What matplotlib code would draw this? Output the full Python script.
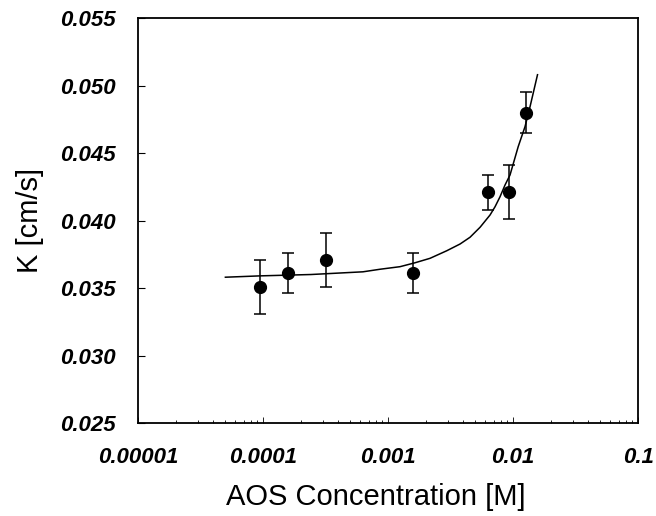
import matplotlib
matplotlib.use('Agg')
import matplotlib.pyplot as plt
from matplotlib.ticker import FixedLocator, LogLocator, NullFormatter

plt.rcParams['font.family'] = ['Liberation Sans', 'DejaVu Sans']

# measured points (AOS concentration [M], K [cm/s], error)
conc = [9.5e-5, 1.58e-4, 3.17e-4, 1.58e-3, 6.3e-3, 9.35e-3, 1.27e-2]
k_val = [0.0351, 0.0361, 0.0371, 0.0361, 0.0421, 0.0421, 0.0480]
k_err = [0.0020, 0.0015, 0.0020, 0.0015, 0.0013, 0.0020, 0.0015]

# fitted curve
fit_x = [5.0e-5, 9.5e-5, 2.42e-4, 6.3e-4, 8.63e-4, 1.247e-3, 1.644e-3,
         2.168e-3, 2.95e-3, 3.77e-3, 4.53e-3, 5.45e-3, 6.55e-3, 7.18e-3,
         7.87e-3, 8.63e-3, 9.46e-3, 1.10e-2, 1.247e-2, 1.368e-2, 1.57e-2]
fit_y = [0.0358, 0.0359, 0.0360, 0.0362, 0.03639, 0.03658, 0.03687,
         0.03720, 0.03776, 0.03826, 0.03876, 0.03950, 0.04041, 0.04102,
         0.04176, 0.04263, 0.04337, 0.04547, 0.04695, 0.04843, 0.05080]

x_ticks = [1e-5, 1e-4, 1e-3, 1e-2, 1e-1]
x_labels = ['0.00001', '0.0001', '0.001', '0.01', '0.1']
y_ticks = [0.025, 0.030, 0.035, 0.040, 0.045, 0.050, 0.055]

fig = plt.figure(figsize=(6.56, 5.16), dpi=100)
ax = fig.add_axes([0.2104, 0.1802, 0.7622, 0.7849])

ax.plot(fit_x, fit_y, color='black', lw=1.1)
ax.errorbar(conc, k_val, yerr=k_err, fmt='o', color='black', ms=8.5,
            ecolor='black', elinewidth=1.1, capsize=4.3, capthick=1.1)

ax.set_xscale('log')
ax.set_xlim(1e-5, 1e-1)
ax.set_ylim(0.025, 0.055)

ax.xaxis.set_major_locator(FixedLocator(x_ticks))
ax.set_xticklabels(x_labels)
ax.xaxis.set_minor_locator(LogLocator(base=10, subs=range(2, 10), numticks=20))
ax.xaxis.set_minor_formatter(NullFormatter())
ax.set_yticks(y_ticks)
ax.set_yticklabels([f'{v:.3f}' for v in y_ticks])

ax.tick_params(axis='x', which='major', direction='in', length=4, width=0.6, pad=17)
ax.tick_params(axis='x', which='minor', direction='in', length=2.5, width=0.6)
ax.tick_params(axis='y', which='major', direction='in', length=5, width=0.8, pad=16)
ax.tick_params(top=False, right=False)

for lab in ax.get_xticklabels() + ax.get_yticklabels():
    lab.set_fontsize(16)
    lab.set_fontweight('bold')
    lab.set_fontstyle('italic')

for sp in ax.spines.values():
    sp.set_linewidth(1.3)

ax.set_xlabel('AOS Concentration [M]', fontsize=21)
ax.set_ylabel('K [cm/s]', fontsize=21)
ax.xaxis.set_label_coords(0.476, -0.183)
ax.yaxis.set_label_coords(-0.216, 0.5)
ax.xaxis.label.set_va('center')
ax.yaxis.label.set_va('center')

fig.savefig('out.png', dpi=100)
